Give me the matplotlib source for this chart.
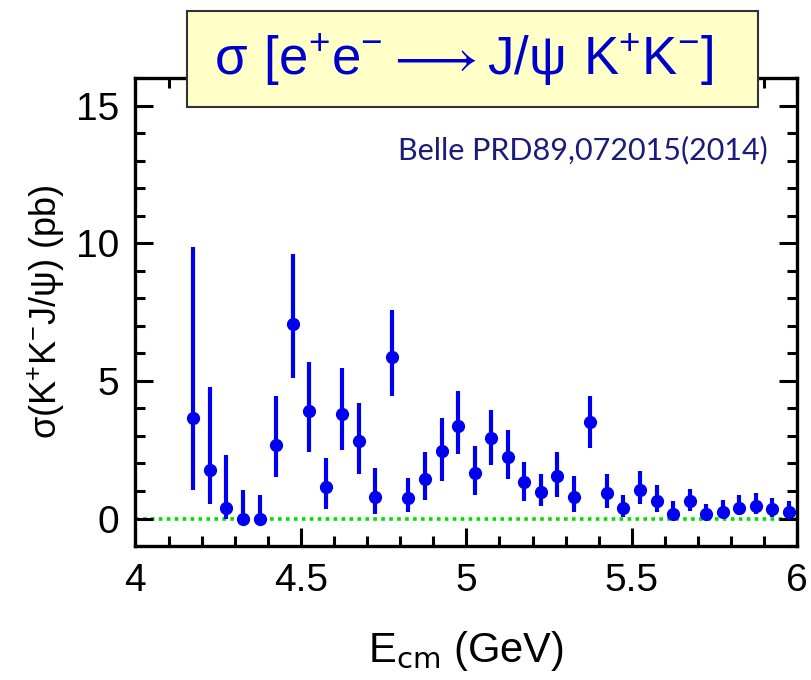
import matplotlib
matplotlib.use("Agg")
import matplotlib.pyplot as plt
from matplotlib.patches import Rectangle
from matplotlib.ticker import MultipleLocator

# Belle e+e- -> J/psi K+K- cross section
energy = [4.175, 4.225, 4.275, 4.325, 4.375, 4.425, 4.475, 4.525, 4.575, 4.625,
          4.675, 4.725, 4.775, 4.825, 4.875, 4.925, 4.975, 5.025, 5.075, 5.125,
          5.175, 5.225, 5.275, 5.325, 5.375, 5.425, 5.475, 5.525, 5.575, 5.625,
          5.675, 5.725, 5.775, 5.825, 5.875, 5.925, 5.975]
sigma = [3.65, 1.78, 0.40, 0.0, 0.0, 2.66, 7.08, 3.90, 1.14, 3.78,
         2.83, 0.80, 5.88, 0.73, 1.45, 2.47, 3.38, 1.67, 2.91, 2.22,
         1.31, 0.98, 1.56, 0.80, 3.52, 0.94, 0.40, 1.05, 0.65, 0.15,
         0.62, 0.15, 0.25, 0.40, 0.44, 0.33, 0.25]
err_up = [6.2, 3.0, 1.9, 1.02, 0.84, 1.8, 2.55, 1.8, 1.06, 1.7,
          1.35, 1.02, 1.68, 0.76, 0.98, 1.2, 1.27, 0.95, 1.05, 0.98,
          0.76, 0.65, 0.84, 0.76, 0.95, 0.69, 0.44, 0.66, 0.55, 0.5,
          0.47, 0.36, 0.44, 0.44, 0.47, 0.40, 0.37]
err_down = [2.6, 1.27, 0.40, 0.0, 0.0, 1.15, 1.96, 1.49, 0.81, 1.30,
            1.20, 0.62, 1.41, 0.51, 0.76, 1.09, 1.02, 0.83, 0.95, 0.77,
            0.66, 0.54, 0.76, 0.55, 0.94, 0.54, 0.33, 0.54, 0.40, 0.15,
            0.33, 0.15, 0.22, 0.29, 0.29, 0.26, 0.23]

plt.rcParams['font.family'] = ['Liberation Sans', 'DejaVu Sans']

fig = plt.figure(figsize=(8.11, 6.8), dpi=100)
ax = fig.add_axes([0.167, 0.197, 0.816, 0.688])

ax.axhline(0, color='#00e000', linestyle=(0, (1, 1.2)), linewidth=2.6, zorder=1)
ax.errorbar(energy, sigma, yerr=[err_down, err_up], fmt='o', color='#0000f0',
            markersize=8.5, elinewidth=3, capsize=0, zorder=3, clip_on=False)

ax.set_xlim(4, 6)
ax.set_ylim(-1, 16)
ax.xaxis.set_minor_locator(MultipleLocator(0.1))
ax.yaxis.set_major_locator(MultipleLocator(5))
ax.yaxis.set_minor_locator(MultipleLocator(1))
ax.set_xticks([4, 4.5, 5, 5.5, 6])
ax.set_xticklabels(['4', '4.5', '5', '5.5', '6'])
ax.tick_params(which='both', direction='in', top=True, right=True, width=2.2, labelsize=28)
ax.tick_params(which='major', length=13, pad=12)
ax.tick_params(which='minor', length=7)
for s in ax.spines.values():
    s.set_linewidth(2.4)

ax.set_xlabel(r'E$_{\rm cm}$ (GeV)', fontsize=30, labelpad=22)
ax.set_ylabel(r'$\mathregular{\sigma(K^{+}K^{-}J/\psi)}$ (pb)', fontsize=26, labelpad=6)

ax.text(0.955, 0.846, 'Belle PRD89,072015(2014)', transform=ax.transAxes,
        ha='right', va='center', fontsize=22, color='#1c1c78', family=['Lato', 'DejaVu Sans'])

# title box over the top of the frame
fig.patches.append(Rectangle((0.2306, 0.8426), 0.704, 0.141, transform=fig.transFigure,
                             facecolor='#ffffc8', edgecolor='#333333', linewidth=1.5, zorder=5))
fig.text(0.572, 0.912, r'$\mathregular{\sigma\ [e^{+}e^{-} \longrightarrow J/\psi\ K^{+}K^{-}]}$',
         ha='center', va='center', fontsize=38, color='#0000cc', zorder=6)

fig.savefig('out.png', dpi=100)
